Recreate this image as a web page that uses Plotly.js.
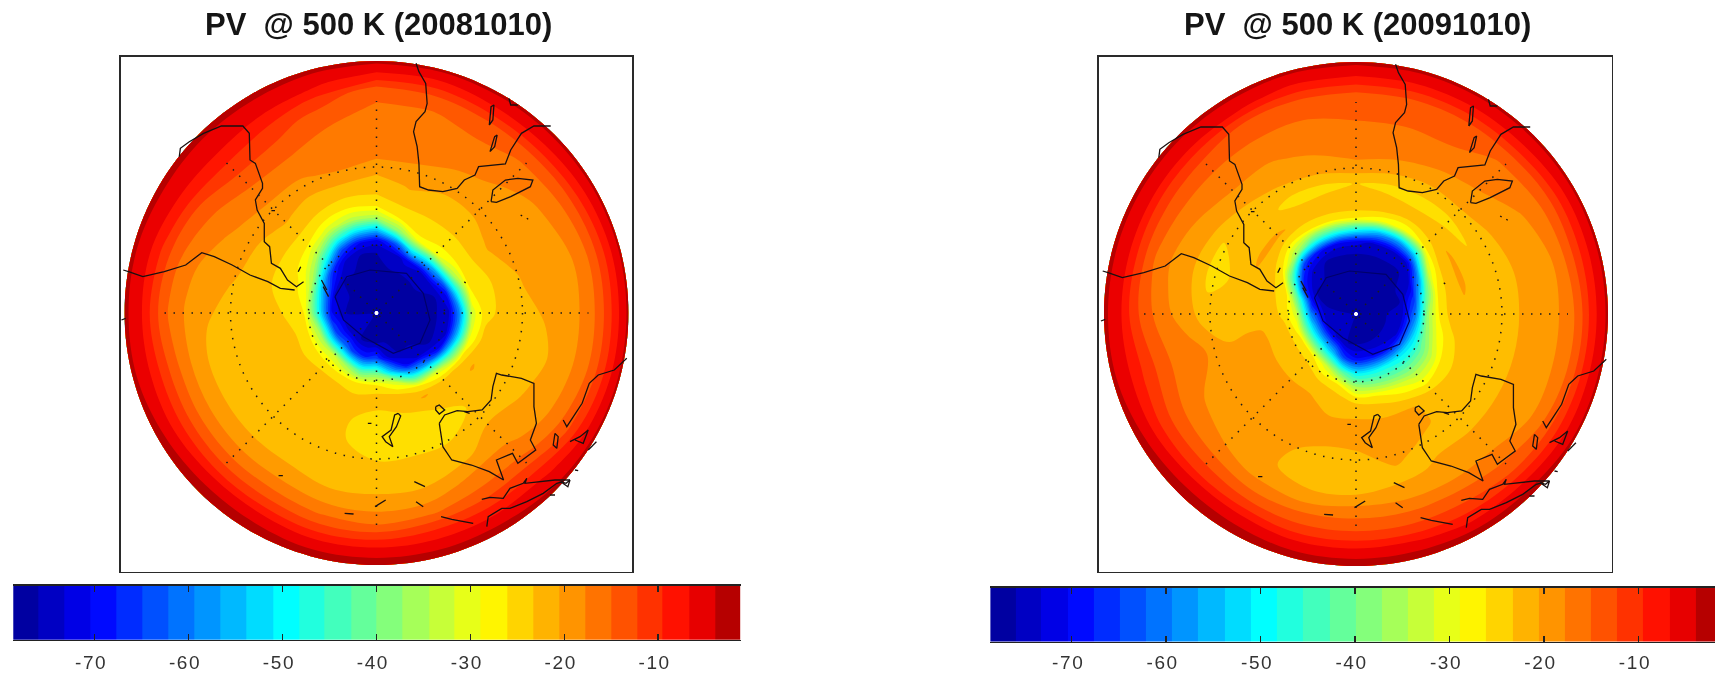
<!DOCTYPE html>
<html><head><meta charset="utf-8">
<script src="https://cdn.plot.ly/plotly-3.0.1.min.js"></script>
<style>html,body{margin:0;padding:0;background:#fff;overflow:hidden}#c{width:1715px;height:674px;filter:blur(0.45px)}.xtick text,.x3tick text,.x4tick text{letter-spacing:1.6px}</style>
</head><body><div id="c"></div>
<script>
// ---- chart values ----
const titles = ['PV\u00a0\u00a0@ 500 K (20081010)', 'PV\u00a0\u00a0@ 500 K (20091010)'];
const tickValues = [-70,-60,-50,-40,-30,-20,-10];
const tickLabels = ['-70\u00a0','-60\u00a0','-50\u00a0','-40\u00a0','-30\u00a0','-20\u00a0','-10\u00a0'];
const bandCentres = [-77.3,-74.6,-71.8,-69.0,-66.3,-63.5,-60.7,-58.0,-55.2,-52.4,-49.6,-46.9,-44.1,-41.3,-38.6,-35.8,-33.0,-30.3,-27.5,-24.7,-21.9,-19.2,-16.4,-13.6,-10.9,-8.1,-5.3,-2.6];
const rings = [2,30,45,60,72,84,96,110,130,150,170,190,208,222,236,252];
const bearings = [0,15,30,45,60,75,90,105,120,135,150,165,180,195,210,225,240,255,270,285,300,315,330,345,360];
const pv2008 = [
[-76,-76,-76,-76,-72,-54,-36,-27,-25,-21,-19,-19,-18,-17,-11,-6],
[-76,-76,-76,-75,-64,-40,-29,-26,-23,-21,-19,-19,-18,-16,-11,-6],
[-76,-76,-76,-72,-50,-30,-27,-26,-24,-22,-20,-19,-17,-15,-10,-6],
[-76,-76,-76,-73,-54,-31,-28,-26,-24,-22,-21,-20,-18,-15,-10,-6],
[-76,-76,-76,-74,-60,-36,-28,-26,-23,-22,-21,-21,-19,-16,-11,-6],
[-76,-76,-76,-76,-70,-48,-29,-27,-25,-23,-22,-22,-20,-17,-12,-6],
[-76,-76,-76,-76,-74,-58,-33,-27,-25,-24,-23,-22,-20,-17,-12,-6],
[-76,-76,-76,-76,-74,-55,-32,-25,-26,-24,-24,-22,-20,-17,-12,-6],
[-76,-76,-76,-76,-70,-45,-27,-23,-26,-25,-23,-22,-19,-16,-11,-6],
[-76,-76,-76,-74,-58,-33,-25,-26,-26,-24,-22,-20,-17,-13,-9,-6],
[-76,-76,-76,-70,-50,-29,-23,-26,-27,-26,-24,-20,-17,-13,-9,-5],
[-76,-76,-74,-56,-33,-26,-25,-27,-27,-26,-25,-22,-18,-13,-9,-5],
[-76,-76,-66,-42,-29,-25,-26,-27,-27,-26,-25,-22,-19,-14,-9,-5],
[-76,-76,-68,-44,-29,-26,-26,-26,-26,-26,-25,-22,-18,-14,-9,-5],
[-76,-76,-66,-38,-28,-25,-24,-25,-26,-25,-24,-21,-17,-13,-8,-5],
[-76,-75,-62,-34,-28,-25,-24,-24,-26,-25,-24,-21,-17,-13,-8,-5],
[-76,-75,-64,-36,-28,-26,-25,-24,-25,-26,-24,-21,-17,-13,-9,-5],
[-76,-75,-66,-38,-28,-26,-25,-24,-25,-25,-24,-21,-17,-13,-9,-6],
[-76,-76,-70,-46,-29,-27,-26,-25,-24,-24,-23,-21,-18,-14,-9,-6],
[-76,-76,-72,-50,-32,-28,-27,-26,-24,-23,-22,-20,-17,-13,-9,-6],
[-76,-76,-75,-58,-38,-30,-28,-26,-24,-22,-20,-18,-15,-11,-8,-6],
[-76,-76,-76,-68,-50,-36,-29,-26,-23,-21,-19,-16,-13,-10,-8,-6],
[-76,-76,-76,-74,-64,-46,-33,-27,-24,-21,-19,-16,-14,-11,-8,-6],
[-76,-76,-76,-76,-70,-52,-36,-28,-24,-20,-19,-18,-16,-13,-9,-6],
[-76,-76,-76,-76,-72,-54,-36,-27,-25,-21,-19,-19,-18,-17,-11,-6]
];
const pv2009 = [
[-76,-76,-76,-76,-72,-50,-29,-24,-26,-21,-19,-18,-17,-15,-10,-6],
[-76,-76,-76,-76,-74,-56,-31,-24,-27,-22,-19,-18,-17,-15,-10,-6],
[-76,-76,-76,-76,-74,-58,-32,-25,-27,-23,-20,-18,-17,-15,-10,-6],
[-76,-76,-76,-76,-73,-52,-29,-24,-27,-23,-21,-19,-18,-15,-10,-6],
[-76,-76,-76,-74,-58,-33,-26,-23,-26,-24,-22,-21,-19,-16,-11,-6],
[-76,-76,-76,-66,-44,-29,-25,-23,-25,-24,-23,-22,-20,-16,-11,-6],
[-76,-76,-75,-60,-38,-28,-25,-24,-26,-24,-23,-22,-20,-17,-11,-6],
[-76,-76,-74,-56,-40,-31,-27,-25,-25,-24,-23,-22,-20,-17,-11,-6],
[-76,-76,-73,-54,-44,-36,-29,-26,-25,-24,-23,-22,-20,-16,-11,-6],
[-76,-76,-72,-52,-44,-36,-30,-25,-24,-24,-23,-21,-18,-15,-10,-5],
[-76,-76,-71,-50,-42,-32,-27,-23,-23,-24,-23,-21,-17,-14,-10,-5],
[-76,-76,-70,-50,-40,-29,-25,-23,-23,-23,-24,-21,-17,-14,-9,-5],
[-76,-76,-70,-50,-38,-28,-24,-23,-23,-24,-26,-21,-17,-14,-9,-5],
[-76,-76,-66,-42,-29,-25,-24,-23,-23,-24,-25,-22,-17,-14,-9,-5],
[-76,-74,-56,-33,-27,-24,-23,-23,-23,-23,-23,-21,-17,-13,-8,-5],
[-76,-73,-52,-29,-25,-24,-23,-23,-23,-23,-22,-20,-16,-13,-8,-5],
[-76,-73,-52,-28,-25,-24,-23,-23,-23,-22,-21,-19,-16,-13,-9,-5],
[-76,-74,-54,-30,-25,-24,-23,-23,-23,-21,-19,-18,-15,-12,-9,-6],
[-76,-75,-60,-33,-27,-25,-24,-24,-25,-25,-22,-20,-17,-14,-9,-6],
[-76,-76,-70,-44,-28,-26,-25,-24,-26,-27,-23,-21,-18,-14,-9,-6],
[-76,-76,-76,-68,-46,-29,-25,-23,-25,-26,-22,-20,-17,-14,-9,-6],
[-76,-76,-76,-74,-66,-38,-28,-23,-25,-24,-21,-19,-17,-14,-9,-6],
[-76,-76,-76,-76,-70,-46,-29,-24,-27,-23,-21,-19,-17,-15,-9,-6],
[-76,-76,-76,-76,-72,-48,-29,-24,-27,-22,-20,-19,-17,-15,-10,-6],
[-76,-76,-76,-76,-72,-50,-29,-24,-26,-21,-19,-18,-17,-15,-10,-6]
];
// coast traced on the 2.8x / 3x enlargement of the left map; null breaks a line
const coastX = [885,893,912,916,910,885,878,888,893,895,920,960,1000,1020,1050,1060,1135,1150,1180,1215,1262,null,
1095,1100,1135,1170,1212,1205,1150,1110,1095,null,1178,1182,null,1195,1199,null,1090,1095,1103,1100,1090,null,1092,1105,1112,1105,1092,null,1145,1150,1170,null,
222,225,250,290,340,400,418,420,435,455,455,435,440,460,460,475,480,505,525,550,570,null,
545,505,470,420,370,320,285,240,180,120,80,65,null,555,562,null,620,635,null,625,640,null,480,490,null,1020,1024,null,
940,950,965,950,940,940,null,
950,965,1000,1030,1070,1095,1100,1110,1125,1180,1215,1215,1222,1205,1220,1170,1155,1110,1130,1090,1040,985,960,950,null,1020,1035,null,
835,825,815,790,800,820,810,830,842,835,null,750,760,null,880,910,null,885,905,null,770,800,null,685,710,null,500,512,null,955,985,1045,null,
1069,1092,1129,1148,1185,1195,1190,1232,1274,1316,null,1083,1087,1125,1148,1195,1241,1279,1297,null,1290,1305,1316,1310,1290,null,
1274,1269,1279,1283,1274,null,1297,1307,1350,1370,1395,1440,1475,null,1316,1344,1367,1353,1330,null,1367,1390,null,1330,1339,null,1260,1274,null,60,72];
const coastY = [190,215,250,310,335,365,395,440,490,560,570,575,565,540,525,500,492,450,400,378,378,null,
605,570,540,535,540,560,590,607,605,null,645,648,null,655,658,null,375,320,315,360,375,null,455,410,405,440,455,null,295,315,315,null,
470,445,425,400,378,378,400,480,490,550,565,600,630,670,725,740,790,805,840,860,845,null,
870,865,845,825,795,770,758,795,815,830,815,810,null,815,800,null,840,870,null,860,890,null,632,632,null,845,849,null,
1220,1215,1230,1242,1230,1220,null,
1270,1245,1232,1235,1230,1200,1160,1120,1125,1135,1150,1220,1270,1320,1350,1390,1360,1380,1440,1415,1395,1380,1340,1270,null,1235,1240,null,
1240,1245,1290,1310,1325,1340,1310,1280,1248,1240,null,1270,1270,null,1445,1460,null,1505,1520,null,1520,1500,null,1540,1542,null,1427,1427,null,1550,1558,1570,null,
1498,1492,1495,1465,1450,1435,1450,1445,1440,1440,null,1580,1550,1525,1525,1505,1480,1450,1445,null,1445,1450,1440,1460,1445,null,
1300,1335,1345,1310,1300,null,1260,1280,1210,1150,1125,1110,1075,null,1325,1310,1290,1330,1320,null,1350,1325,null,1410,1412,null,1485,1485,null,960,955];
// ring of the polar continent, in map pixels from the pole
const innerX = [-41.5,-29.8,-6.5,30,46.8,53.5,43.5,16.8,-13.2,-33,-41.5];
const innerY = [16.3,36.3,43,39.7,19.7,-7,-30.3,-40.3,-23.7,-7,16.3];
const parallels = [68,146];
const meridianEnds = [[0,212],[212,0],[150,150],[150,-150]];

// ---- scales and page geometry ----
const W=1715,H=674;
const zmin=-78.7,zmax=-1.2,levelSize=2.768;
const jet=[[0,'#00008f'],[0.115,'#0000ff'],[0.375,'#00ffff'],[0.65,'#ffff00'],[0.93,'#ff0000'],[1,'#9c0000']];
const maps=[
 {cx:376.5,cy:313,l:120.5,r:632,t:57,b:571.5,pv:pv2008,tx:378},
 {cx:1356,cy:314,l:1099,r:1611.7,t:56.5,b:571.7,pv:pv2009,tx:1357.5}];
const bars=[
 {l:13,r:740.7,t:585.7,b:640,range:[-78.68,-1.2],standoff:5},
 {l:990.4,r:1715,t:587.7,b:641.7,range:[-78.6,-1.89],standoff:3}];
const px=X=>X==null?null:X/2.8-276.5, py=Y=>Y==null?null:313-Y/3;
const domX=(a,b)=>[a/W,b/W], domY=(t,b)=>[(H-b)/H,(H-t)/H];
const lineStyle={color:'#2a2a2a',width:1.6};
const data=[],shapes=[],annotations=[];
const layout={width:W,height:H,margin:{l:0,r:0,t:0,b:0},paper_bgcolor:'#fff',plot_bgcolor:'#fff',showlegend:false,shapes,annotations};
maps.forEach((m,i)=>{
 const k=i===0?'':'2',xa='x'+k,ya='y'+k;
 const cx=bearings.map(b=>rings.map(r=>r*Math.sin(b*Math.PI/180)));
 const cy=bearings.map(b=>rings.map(r=>r*Math.cos(b*Math.PI/180)));
 data.push({type:'carpet',carpet:'c'+i,a:rings,b:bearings,x:cx,y:cy,xaxis:xa,yaxis:ya,
   aaxis:{showgrid:false,showline:false,showticklabels:'none',startline:false,endline:false,minorgridcount:0,ticks:''},
   baxis:{showgrid:false,showline:false,showticklabels:'none',startline:false,endline:false,minorgridcount:0,ticks:''}});
 data.push({type:'contourcarpet',carpet:'c'+i,a:rings,b:bearings,z:m.pv,xaxis:xa,yaxis:ya,autocontour:false,
   zmin,zmax,zauto:false,colorscale:jet,showscale:false,line:{width:0},
   contours:{start:zmin,end:zmax,size:levelSize,coloring:'fill',showlines:false}});
 data.push({type:'scatter',mode:'lines',x:innerX,y:innerY,xaxis:xa,yaxis:ya,line:{color:'#00006a',width:1.2},hoverinfo:'skip'});
 data.push({type:'scatter',mode:'lines',x:coastX.map(px),y:coastY.map(py),xaxis:xa,yaxis:ya,connectgaps:false,line:{color:'#1a1010',width:1.3},hoverinfo:'skip'});
 layout['xaxis'+k]={domain:domX(m.l,m.r),anchor:ya,range:[m.l-m.cx,m.r-m.cx],showgrid:false,zeroline:false,showticklabels:false,ticks:'',showline:true,mirror:true,linecolor:lineStyle.color,linewidth:lineStyle.width};
 layout['yaxis'+k]={domain:domY(m.t,m.b),anchor:xa,range:[m.cy-m.b,m.cy-m.t],showgrid:false,zeroline:false,showticklabels:false,ticks:'',showline:true,mirror:true,linecolor:lineStyle.color,linewidth:lineStyle.width};
 const dot={color:'#1c1c1c',width:1.5,dash:'1.5px,7.5px'};
 parallels.forEach(r=>shapes.push({type:'circle',xref:xa,yref:ya,x0:-r,x1:r,y0:-r,y1:r,line:dot,layer:'above'}));
 meridianEnds.forEach(e=>shapes.push({type:'line',xref:xa,yref:ya,x0:-e[0],x1:e[0],y0:-e[1],y1:e[1],line:dot,layer:'above'}));
 annotations.push({xref:'paper',yref:'paper',x:m.tx/W,y:(H-24)/H,xanchor:'center',yanchor:'middle',showarrow:false,
   text:'<b>'+titles[i]+'</b>',font:{family:'"Liberation Sans",Arial,sans-serif',size:31,color:'#151515'}});
});
bars.forEach((b,i)=>{
 const n=i+3,xa='x'+n,ya='y'+n;
 data.push({type:'heatmap',x:bandCentres,y:[0],z:[bandCentres],xaxis:xa,yaxis:ya,zmin,zmax,colorscale:jet,showscale:false,hoverinfo:'skip'});
 layout['xaxis'+n]={domain:domX(b.l,b.r),anchor:ya,range:b.range,tickmode:'array',tickvals:tickValues,ticktext:tickLabels,ticks:'inside',ticklen:6,tickwidth:1.2,tickcolor:'#222',
   showgrid:false,zeroline:false,showline:true,mirror:'allticks',linecolor:'#222',linewidth:1.3,ticklabelstandoff:b.standoff,
   tickfont:{family:'"Liberation Sans",Arial,sans-serif',size:19,color:'#333'}};
 layout['yaxis'+n]={domain:domY(b.t,b.b),anchor:xa,range:[-0.5,0.5],showgrid:false,zeroline:false,showticklabels:false,ticks:'',showline:false};
});
Plotly.newPlot('c',data,layout,{displayModeBar:false,staticPlot:true});
</script></body></html>
